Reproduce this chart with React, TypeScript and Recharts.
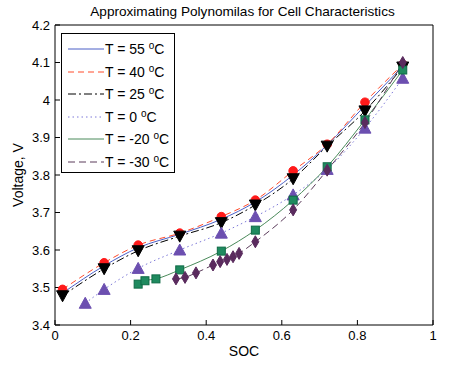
import React from 'react';
import { ComposedChart, Line, XAxis, YAxis } from 'recharts';

// ---- data ----
const soc10 = [0.02, 0.13, 0.22, 0.33, 0.44, 0.53, 0.63, 0.72, 0.82, 0.92];
const v55 = [3.485, 3.558, 3.606, 3.642, 3.682, 3.728, 3.8, 3.88, 3.985, 4.09];
const v40 = [3.495, 3.566, 3.613, 3.645, 3.689, 3.733, 3.811, 3.882, 3.994, 4.095];
const v25 = [3.478, 3.55, 3.598, 3.637, 3.673, 3.72, 3.79, 3.877, 3.971, 4.088];
const soc0 = [0.08, 0.13, 0.22, 0.33, 0.44, 0.53, 0.63, 0.72, 0.82, 0.92];
const v0 = [3.458, 3.495, 3.551, 3.6, 3.645, 3.689, 3.747, 3.815, 3.925, 4.058];
const socM20 = [0.22, 0.238, 0.267, 0.33, 0.44, 0.53, 0.63, 0.72, 0.82, 0.92];
const vM20 = [3.509, 3.518, 3.523, 3.547, 3.597, 3.653, 3.733, 3.822, 3.947, 4.08];
const socM30 = [0.32, 0.344, 0.373, 0.418, 0.437, 0.455, 0.471, 0.487, 0.53, 0.63, 0.72, 0.82, 0.92];
const vM30 = [3.523, 3.527, 3.539, 3.56, 3.569, 3.575, 3.582, 3.591, 3.622, 3.707, 3.813, 3.94, 4.1];

const xTicks = [0, 0.2, 0.4, 0.6, 0.8, 1];
const yTicks = [3.4, 3.5, 3.6, 3.7, 3.8, 3.9, 4.0, 4.1, 4.2];
const legendLabels = ['T = 55 ', 'T = 40 ', 'T = 25 ', 'T = 0 ', 'T = -20 ', 'T = -30 '];

const title = 'Approximating Polynomilas for Cell Characteristics';
const xLabel = 'SOC';
const yLabel = 'Voltage, V';

const mk = (xs: number[], ys: number[]) => xs.map((x, i) => ({ x, y: ys[i] }));

const FONT = '"Liberation Sans", Arial, sans-serif';

const C55 = '#4b5fc6';
const C40 = '#ff4a2a';
const C25 = '#000000';
const C0 = '#7c78d8';
const CM20 = '#4a8a5a';
const CM30 = '#5a3a5a';

const series = [
  { name: 'T55', data: mk(soc10, v55), color: C55, dash: undefined as string | undefined, marker: 'none' },
  { name: 'T40', data: mk(soc10, v40), color: C40, dash: '6 4', marker: 'circle' },
  { name: 'T25', data: mk(soc10, v25), color: C25, dash: '8 3 2 3', marker: 'down' },
  { name: 'T0', data: mk(soc0, v0), color: C0, dash: '1.5 3', marker: 'up' },
  { name: 'TM20', data: mk(socM20, vM20), color: CM20, dash: undefined, marker: 'square' },
  { name: 'TM30', data: mk(socM30, vM30), color: CM30, dash: '7 4', marker: 'diamond' },
];

const renderMarker = (kind: string) => (p: any) => {
  const { cx, cy, index } = p;
  const k = `m-${kind}-${index}`;
  if (cx == null || cy == null || kind === 'none') return <g key={k} />;
  switch (kind) {
    case 'circle':
      return <circle key={k} cx={cx} cy={cy} r={4.3} fill="#ff1a1a" stroke="#ff1a1a" />;
    case 'down':
      return <path key={k} d={`M${cx - 6},${cy - 5}L${cx + 6},${cy - 5}L${cx},${cy + 6}Z`} fill="#000" stroke="#000" />;
    case 'up':
      return <path key={k} d={`M${cx},${cy - 6}L${cx + 6},${cy + 5}L${cx - 6},${cy + 5}Z`} fill="#6c4fb0" stroke="#6c4fb0" />;
    case 'square':
      return <rect key={k} x={cx - 4} y={cy - 4} width={8} height={8} fill="#1f8a5f" stroke="#0e6a45" strokeWidth={1} />;
    case 'diamond':
      return <path key={k} d={`M${cx},${cy - 6}L${cx + 3.5},${cy}L${cx},${cy + 6}L${cx - 3.5},${cy}Z`} fill="#5a2b5e" stroke="#5a2b5e" />;
    default:
      return <g key={k} />;
  }
};

const fmt = (v: number) => String(Math.round(v * 10) / 10);

export default function App() {
  return (
    <div style={{ position: 'absolute', left: 0, top: 0, width: 450, height: 367, background: '#fff', fontFamily: FONT }}>
      <ComposedChart width={450} height={367} margin={{ top: 0, right: 0, bottom: 0, left: 0 }}>
        <XAxis
          xAxisId={0}
          type="number"
          dataKey="x"
          domain={[0, 1]}
          ticks={xTicks}
          allowDataOverflow
          orientation="bottom"
          height={42}
          tickSize={-5}
          tickMargin={11}
          tickFormatter={fmt}
          axisLine={{ stroke: '#000' }}
          tickLine={{ stroke: '#000' }}
          tick={{ fill: '#000', fontSize: 13, fontFamily: FONT }}
        />
        <XAxis
          xAxisId="t"
          type="number"
          dataKey="x"
          domain={[0, 1]}
          ticks={xTicks}
          allowDataOverflow
          orientation="top"
          height={25}
          tickSize={-5}
          tick={false}
          axisLine={{ stroke: '#000' }}
          tickLine={{ stroke: '#000' }}
        />
        <YAxis
          yAxisId={0}
          type="number"
          domain={[3.4, 4.2]}
          ticks={yTicks}
          allowDataOverflow
          width={55}
          tickSize={-5}
          tickMargin={10}
          tickFormatter={fmt}
          axisLine={{ stroke: '#000' }}
          tickLine={{ stroke: '#000' }}
          tick={{ fill: '#000', fontSize: 13, fontFamily: FONT }}
        />
        <YAxis
          yAxisId="r"
          orientation="right"
          type="number"
          domain={[3.4, 4.2]}
          ticks={yTicks}
          allowDataOverflow
          width={17}
          tickSize={-5}
          tick={false}
          axisLine={{ stroke: '#000' }}
          tickLine={{ stroke: '#000' }}
        />
        {series.map((s) => (
          <Line
            key={s.name}
            data={s.data}
            dataKey="y"
            xAxisId={0}
            yAxisId={0}
            type="monotone"
            stroke={s.color}
            strokeWidth={1}
            strokeDasharray={s.dash}
            dot={renderMarker(s.marker)}
            activeDot={false}
            isAnimationActive={false}
            legendType="none"
          />
        ))}
      </ComposedChart>

      {/* title */}
      <div style={{ position: 'absolute', left: 0, width: 485, top: 4, textAlign: 'center', fontSize: 13.6, color: '#000', whiteSpace: 'nowrap' }}>
        {title}
      </div>
      {/* x label */}
      <div style={{ position: 'absolute', left: 55, width: 378, top: 343, textAlign: 'center', fontSize: 14, color: '#000' }}>
        {xLabel}
      </div>
      {/* y label */}
      <div
        style={{
          position: 'absolute',
          left: 18,
          top: 175,
          transform: 'translate(-50%, -50%) rotate(-90deg)',
          fontSize: 14,
          color: '#000',
          whiteSpace: 'nowrap',
        }}
      >
        {yLabel}
      </div>

      {/* legend */}
      <div
        style={{
          position: 'absolute',
          left: 61,
          top: 33,
          width: 112,
          height: 138,
          border: '1px solid #000',
          background: '#fff',
        }}
      >
        {series.map((s, i) => (
          <div key={s.name} style={{ position: 'absolute', left: 0, top: 4 + i * 22.6, height: 22, width: 112 }}>
            <svg width={40} height={22} style={{ position: 'absolute', left: 5, top: 0 }}>
              <line x1={1} y1={11} x2={37} y2={11} stroke={s.color} strokeWidth={1} strokeDasharray={s.dash} />
            </svg>
            <div style={{ position: 'absolute', left: 43, top: 2, fontSize: 14, lineHeight: '18px', whiteSpace: 'nowrap', color: '#000' }}>
              {legendLabels[i]}
              <span style={{ fontSize: 10, position: 'relative', top: -5 }}>o</span>C
            </div>
          </div>
        ))}
      </div>
    </div>
  );
}
